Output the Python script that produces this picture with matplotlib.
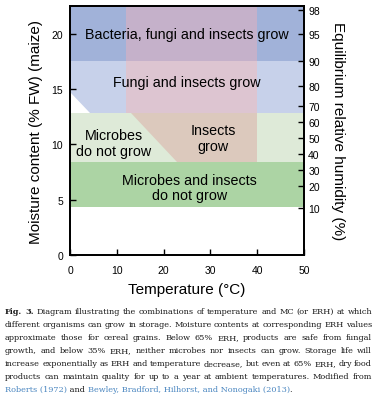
import matplotlib.pyplot as plt
from matplotlib.patches import Polygon

plt.rcParams['font.family'] = ['Liberation Sans', 'DejaVu Sans']

# axis ranges: temperature (°C) and moisture content (% FW)
temp_lim = [0, 50]
mc_lim = [0, 22.5]
temp_ticks = [0, 10, 20, 30, 40, 50]
mc_ticks = [0, 5, 10, 15, 20]

# right axis: ERH values and the moisture content they sit at
erh_labels = [98, 95, 90, 80, 70, 60, 50, 40, 30, 20, 10]
erh_mc = [22.1, 20.0, 17.5, 15.3, 13.5, 12.06, 10.55, 9.14, 7.72, 6.22, 4.23]

# band limits (moisture content)
mc_top = 22.5
mc_fungi = 17.5      # ~90% ERH
mc_microbes = 12.8   # ~65% ERH
mc_insects = 8.4     # ~35% ERH
mc_bottom = 4.3      # ~10% ERH

# temperature limits of the growth zone
temp_low = 12
temp_high = 40

# diagonal edges
white_edge_mc = 14.7      # white notch: MC at T=0
white_edge_temp = 4.3     # white notch: T at mc_microbes
insect_edge_temp = [13.0, 22.8]   # T at mc_microbes and at mc_insects

colors = {
    'top_blue': '#a1b2d9',
    'top_purple': '#c5b1ca',
    'mid_blue': '#c7d1ea',
    'mid_pink': '#ddc5d1',
    'low_green': '#deead8',
    'low_tan': '#dcc9bd',
    'dry_green': '#acd4a4',
}

fig = plt.figure(figsize=(3.77, 4.02), dpi=100)
ax = fig.add_axes([70 / 377, 1 - 256 / 402, 234 / 377, 249 / 402])
ax.set_xlim(temp_lim)
ax.set_ylim(mc_lim)


def rect(t0, t1, m0, m1, c):
    ax.fill_between([t0, t1], m0, m1, color=c, lw=0, zorder=1)


# top band
rect(temp_lim[0], temp_low, mc_fungi, mc_top, colors['top_blue'])
rect(temp_low, temp_high, mc_fungi, mc_top, colors['top_purple'])
rect(temp_high, temp_lim[1], mc_fungi, mc_top, colors['top_blue'])
# fungi band
rect(temp_lim[0], temp_low, mc_microbes, mc_fungi, colors['mid_blue'])
rect(temp_low, temp_high, mc_microbes, mc_fungi, colors['mid_pink'])
rect(temp_high, temp_lim[1], mc_microbes, mc_fungi, colors['mid_blue'])
ax.add_patch(Polygon([(temp_lim[0], white_edge_mc), (temp_lim[0], mc_microbes),
                      (white_edge_temp, mc_microbes)],
                     closed=True, color='white', lw=0, zorder=2))
# microbes band
rect(temp_lim[0], temp_lim[1], mc_insects, mc_microbes, colors['low_green'])
ax.add_patch(Polygon([(insect_edge_temp[0], mc_microbes), (temp_high, mc_microbes),
                      (temp_high, mc_insects), (insect_edge_temp[1], mc_insects)],
                     closed=True, color=colors['low_tan'], lw=0, zorder=2))
# dry band
rect(temp_lim[0], temp_lim[1], mc_bottom, mc_insects, colors['dry_green'])

txt = dict(fontsize=10.3, ha='center', va='center', zorder=5, linespacing=1.15)
ax.text(25, 20.0, 'Bacteria, fungi and insects grow', **txt)
ax.text(25, 15.6, 'Fungi and insects grow', **txt)
ax.text(9.4, 10.1, 'Microbes\ndo not grow', **txt)
ax.text(30.6, 10.6, 'Insects\ngrow', **txt)
ax.text(25.6, 6.1, 'Microbes and insects\ndo not grow', **txt)

ax.set_xticks(temp_ticks)
ax.set_yticks(mc_ticks)
ax.tick_params(direction='in', length=4, width=1, labelsize=7.5)
ax.tick_params(axis='x', pad=7)
ax.tick_params(axis='y', pad=5)
for s in ax.spines.values():
    s.set_linewidth(1.3)
ax.set_xlabel('Temperature (°C)', fontsize=11, labelpad=5)
ax.set_ylabel('Moisture content (% FW) (maize)', fontsize=11, labelpad=6)

ax2 = ax.twinx()
ax2.set_ylim(mc_lim)
ax2.set_yticks(erh_mc)
ax2.set_yticklabels([str(v) for v in erh_labels])
ax2.tick_params(direction='in', length=4, width=1, labelsize=7.5, pad=3)
for s in ax2.spines.values():
    s.set_linewidth(1.3)
ax2.set_ylabel('Equilibrium relative humidity (%)', fontsize=11,
               rotation=270, va='bottom', labelpad=8)

# caption, justified like the journal page
caption_lines = [
    'Fig. 3. Diagram illustrating the combinations of temperature and MC (or ERH) at which',
    'different organisms can grow in storage. Moisture contents at corresponding ERH values',
    'approximate those for cereal grains. Below 65% ERH, products are safe from fungal',
    'growth, and below 35% ERH, neither microbes nor insects can grow. Storage life will',
    'increase exponentially as ERH and temperature decrease, but even at 65% ERH, dry food',
    'products can maintain quality for up to a year at ambient temperatures. Modified from',
]
last_line = [('Roberts (1972)', '#4a86c0'), (' and ', 'black'),
             ('Bewley, Bradford, Hilhorst, and Nonogaki (2013)', '#4a86c0'),
             ('.', 'black')]
bold_words = ['Fig.', '3.']

cap_family = 'DejaVu Serif'
base_size = 6.0
x_left, x_right = 5, 372
line_top, line_step = 312, 13
ink = '#1a1a1a'
renderer = fig.canvas.get_renderer()


def width(t):
    return t.get_window_extent(renderer).width


# build word texts at a trial size, then pick the size that fits the widest line
rows = []
for i, line in enumerate(caption_lines):
    y = 1 - (line_top + line_step * i) / 402
    items = []
    for j, w in enumerate(line.split(' ')):
        weight = 'bold' if (i == 0 and j < 2 and w in bold_words) else 'normal'
        items.append(fig.text(0, y, w, va='center', ha='left', color=ink,
                              fontweight=weight, family=cap_family,
                              fontsize=base_size))
    rows.append(items)

probe = fig.text(0, 0, 'a a', family=cap_family, fontsize=base_size)
probe2 = fig.text(0, 0, 'aa', family=cap_family, fontsize=base_size)
space = width(probe) - width(probe2)
probe.remove()
probe2.remove()

need = max(sum(width(t) for t in r) + 0.85 * space * (len(r) - 1) for r in rows)
cap_size = base_size * (x_right - x_left) / need

for items in rows:
    for t in items:
        t.set_fontsize(cap_size)
    ws = [width(t) for t in items]
    gap = (x_right - x_left - sum(ws)) / (len(ws) - 1)
    x = x_left
    for t, w in zip(items, ws):
        t.set_x(x / 377)
        x += w + gap

y = 1 - (line_top + line_step * len(caption_lines)) / 402
x = x_left
for seg, c in last_line:
    t = fig.text(x / 377, y, seg.replace(' ', '\u00a0'), va='center', ha='left',
                 color=c if c != 'black' else ink, family=cap_family,
                 fontsize=cap_size)
    x += width(t)

fig.savefig('out.png', dpi=100)
